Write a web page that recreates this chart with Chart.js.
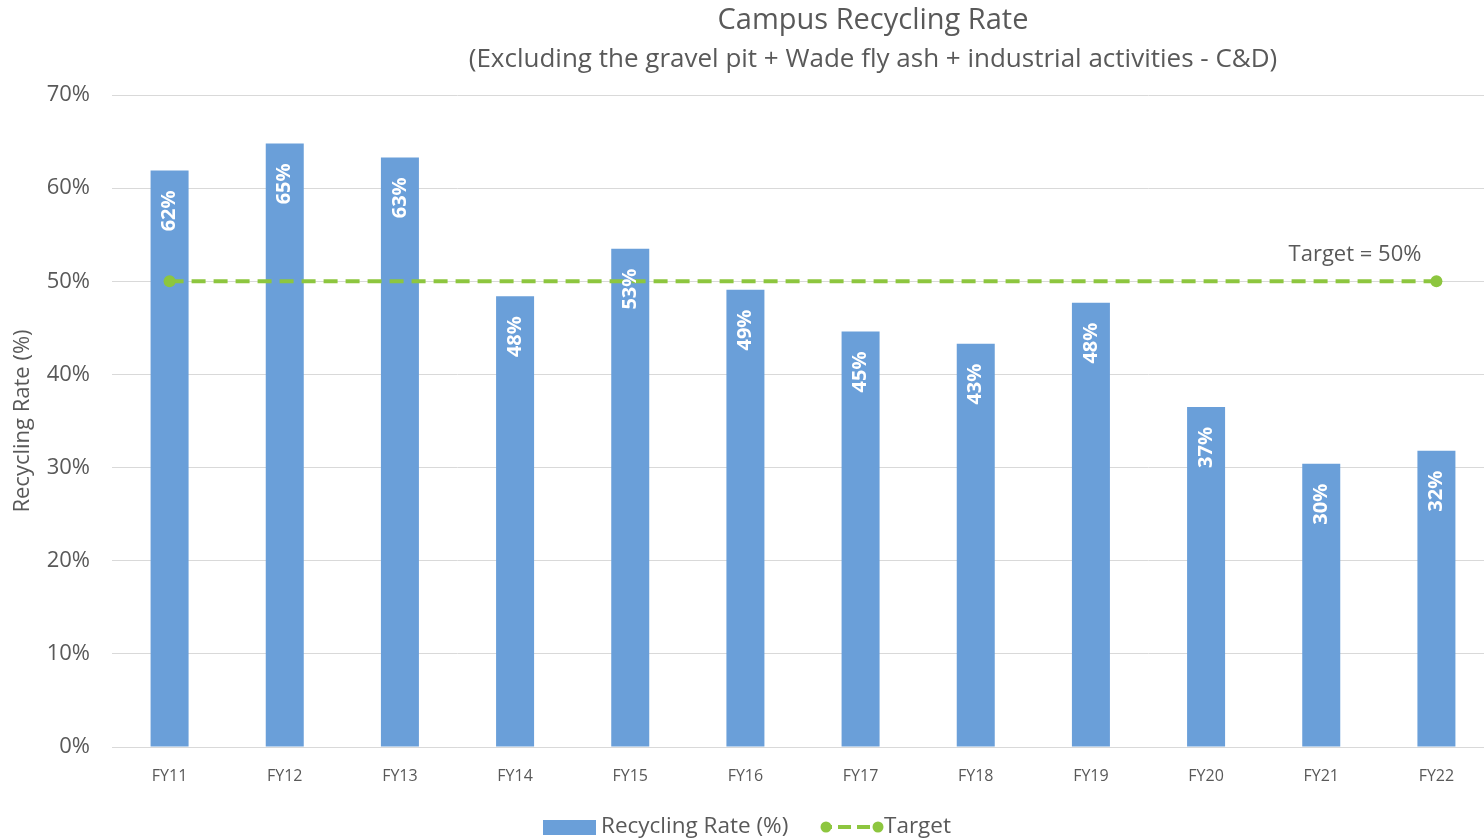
<!DOCTYPE html>
<html lang="en">
<head>
    <meta charset="UTF-8">
    <title>Campus Recycling Rate</title>
    <script src="https://cdn.jsdelivr.net/npm/chart.js"></script>
    <style>
        html, body {
            margin: 0;
            padding: 0;
            background: #fff;
            overflow: hidden;
        }
        #wrap {
            width: 1484px;
            height: 840px;
            overflow: hidden;
        }
    </style>
</head>
<body>
    <div id="wrap">
        <canvas id="chart" width="1500" height="840"></canvas>
    </div>
    <script>
        const years = ['FY11', 'FY12', 'FY13', 'FY14', 'FY15', 'FY16', 'FY17', 'FY18', 'FY19', 'FY20', 'FY21', 'FY22'];
        const recyclingRate = [61.9, 64.8, 63.3, 48.4, 53.5, 49.1, 44.6, 43.3, 47.7, 36.5, 30.4, 31.8];
        const rateLabels = ['62%', '65%', '63%', '48%', '53%', '49%', '45%', '43%', '48%', '37%', '30%', '32%'];
        const target = [50, 50, 50, 50, 50, 50, 50, 50, 50, 50, 50, 50];
        const yTicks = [0, 10, 20, 30, 40, 50, 60, 70];

        const BLUE = '#6a9fd9';
        const GREEN = '#8dc63f';
        const GREY = '#595959';
        const FONT = "'Open Sans', 'Noto Sans', sans-serif";

        // titles, labels inside the bars, target note and the legend
        const extras = {
            id: 'extras',
            afterDatasetsDraw(chart) {
                const ctx = chart.ctx;
                ctx.save();
                ctx.fillStyle = GREY;
                ctx.textAlign = 'center';
                ctx.textBaseline = 'middle';
                ctx.font = "29px " + FONT;
                ctx.fillText('Campus Recycling Rate', 873, 21);
                ctx.font = "26px " + FONT;
                ctx.fillText('(Excluding the gravel pit + Wade fly ash + industrial activities - C&D)', 873, 60);

                const bars = chart.getDatasetMeta(0).data;
                ctx.fillStyle = '#fff';
                ctx.font = "bold 20px " + FONT;
                ctx.textAlign = 'right';
                ctx.textBaseline = 'middle';
                bars.forEach((bar, i) => {
                    ctx.save();
                    ctx.translate(bar.x, bar.y + 20);
                    ctx.rotate(-Math.PI / 2);
                    ctx.fillText(rateLabels[i], 0, 0);
                    ctx.restore();
                });

                const pts = chart.getDatasetMeta(1).data;
                const last = pts[pts.length - 1];
                ctx.fillStyle = GREY;
                ctx.font = "22px " + FONT;
                ctx.textAlign = 'right';
                ctx.textBaseline = 'middle';
                ctx.fillText('Target = 50%', last.x - 15, last.y - 27);

                // legend
                const ly = 827;
                ctx.fillStyle = BLUE;
                ctx.fillRect(543, ly - 7, 53, 15);
                ctx.fillStyle = GREY;
                ctx.textAlign = 'left';
                ctx.textBaseline = 'middle';
                ctx.font = "22.5px " + FONT;
                ctx.fillText('Recycling Rate (%)', 601, ly);
                ctx.strokeStyle = GREEN;
                ctx.lineWidth = 4;
                ctx.setLineDash([13, 6]);
                ctx.beginPath();
                ctx.moveTo(838, ly);
                ctx.lineTo(872, ly);
                ctx.stroke();
                ctx.setLineDash([]);
                ctx.beginPath();
                ctx.moveTo(826, ly);
                ctx.lineTo(832, ly);
                ctx.stroke();
                ctx.fillStyle = GREEN;
                [826, 878].forEach(x => {
                    ctx.beginPath();
                    ctx.arc(x, ly, 5.5, 0, Math.PI * 2);
                    ctx.fill();
                });
                ctx.fillStyle = GREY;
                ctx.fillText('Target', 884, ly);
                ctx.restore();
            }
        };

        new Chart(document.getElementById('chart'), {
            data: {
                labels: years,
                datasets: [
                    {
                        type: 'bar',
                        label: 'Recycling Rate (%)',
                        data: recyclingRate,
                        backgroundColor: BLUE,
                        barPercentage: 0.33,
                        categoryPercentage: 1.0,
                        order: 2
                    },
                    {
                        type: 'line',
                        label: 'Target',
                        data: target,
                        borderColor: GREEN,
                        backgroundColor: GREEN,
                        borderWidth: 4,
                        borderDash: [14, 8],
                        pointRadius: ctx => (ctx.dataIndex === 0 || ctx.dataIndex === target.length - 1) ? 6 : 0,
                        pointBorderWidth: 0,
                        order: 1
                    }
                ]
            },
            options: {
                responsive: false,
                animation: false,
                layout: { padding: { left: 10, right: 0, top: 95, bottom: 0 } },
                plugins: {
                    legend: { display: false },
                    tooltip: { enabled: false }
                },
                scales: {
                    x: {
                        grid: { display: false },
                        border: { color: '#d9d9d9', width: 1 },
                        ticks: { color: GREY, font: { family: FONT, size: 16 }, padding: 12 },
                        afterFit: s => { s.height = 93; }
                    },
                    y: {
                        min: 0,
                        max: 70,
                        afterBuildTicks: s => { s.ticks = yTicks.map(v => ({ value: v })); },
                        grid: { color: '#d9d9d9', drawTicks: false },
                        border: { display: false },
                        ticks: {
                            color: GREY,
                            font: { family: FONT, size: 22 },
                            padding: 22,
                            callback: v => v + '%'
                        },
                        title: {
                            display: true,
                            text: 'Recycling Rate (%)',
                            color: GREY,
                            font: { family: FONT, size: 22 },
                            padding: 0
                        },
                        afterFit: s => { s.width = 102; }
                    }
                }
            },
            plugins: [extras]
        });
    </script>
</body>
</html>
